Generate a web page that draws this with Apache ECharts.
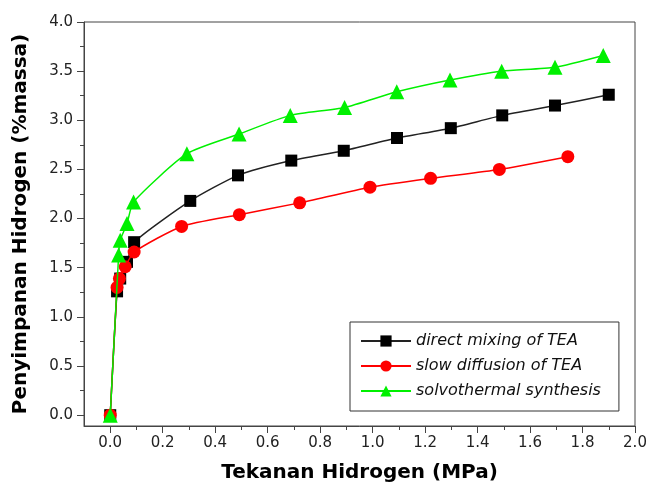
<!DOCTYPE html>
<html>
<head>
<meta charset="utf-8">
<script src="https://cdn.jsdelivr.net/npm/echarts@6/dist/echarts.min.js"></script>
<style>
  html, body { margin: 0; padding: 0; background: #fff; }
  #chart { width: 651px; height: 488px; }
</style>
</head>
<body>
<div id="chart"></div>
<script>
// tekanan (MPa) vs penyimpanan (%massa)
const directX = [0, 0.026, 0.038, 0.064, 0.091, 0.305, 0.487, 0.69, 0.89, 1.093, 1.298, 1.494, 1.695, 1.90]
const directY = [0, 1.26, 1.39, 1.56, 1.76, 2.18, 2.44, 2.59, 2.69, 2.82, 2.92, 3.05, 3.15, 3.26]
const slowX = [0, 0.026, 0.035, 0.057, 0.091, 0.272, 0.492, 0.722, 0.99, 1.221, 1.483, 1.744]
const slowY = [0, 1.30, 1.39, 1.51, 1.66, 1.92, 2.04, 2.16, 2.32, 2.41, 2.50, 2.63]
const solvoX = [0, 0.032, 0.038, 0.064, 0.089, 0.292, 0.491, 0.686, 0.893, 1.092, 1.295, 1.492, 1.695, 1.879]
const solvoY = [0, 1.63, 1.78, 1.95, 2.17, 2.66, 2.86, 3.05, 3.13, 3.29, 3.41, 3.50, 3.54, 3.66]

const seriesNames = ['direct mixing of TEA', 'slow diffusion of TEA', 'solvothermal synthesis']

const xMajor = [0, 0.2, 0.4, 0.6, 0.8, 1.0, 1.2, 1.4, 1.6, 1.8, 2.0]
const xMinor = [0.1, 0.3, 0.5, 0.7, 0.9, 1.1, 1.3, 1.5, 1.7, 1.9]
const yMajor = [0, 0.5, 1.0, 1.5, 2.0, 2.5, 3.0, 3.5, 4.0]
const yMinor = [0.25, 0.75, 1.25, 1.75, 2.25, 2.75, 3.25, 3.75]

const font = '"DejaVu Sans", sans-serif'
const axisColor = '#444'

function pairs(xs, ys) {
  return xs.map((x, i) => [x, ys[i]])
}

const chart = echarts.init(document.getElementById('chart'))

const xBase = {
  type: 'value',
  min: -0.1,
  max: 2.0,
  position: 'bottom',
  splitLine: { show: false },
}
const yBase = {
  type: 'value',
  min: -0.11,
  max: 4.0,
  position: 'left',
  splitLine: { show: false },
}

const option = {
  animation: false,
  backgroundColor: '#fff',
  textStyle: { fontFamily: font },
  grid: {
    left: 84,
    right: 16,
    top: 22,
    bottom: 59,
    show: true,
    borderColor: axisColor,
    borderWidth: 1,
  },
  xAxis: [
    {
      ...xBase,
      name: 'Tekanan Hidrogen (MPa)',
      nameLocation: 'middle',
      nameGap: 37,
      nameTextStyle: { fontFamily: font, fontSize: 20, fontWeight: 'bold', color: '#000' },
      axisLine: { show: true, onZero: false, lineStyle: { color: axisColor, width: 1 } },
      axisTick: { show: true, inside: false, length: 7, customValues: xMajor, lineStyle: { color: axisColor } },
      axisLabel: {
        customValues: xMajor,
        formatter: v => v.toFixed(1),
        fontFamily: font,
        fontSize: 15,
        color: '#222',
        margin: 10,
      },
    },
    {
      ...xBase,
      axisLine: { show: false, onZero: false },
      axisTick: { show: true, inside: false, length: 4, customValues: xMinor, lineStyle: { color: axisColor } },
      axisLabel: { show: false },
    },
  ],
  yAxis: [
    {
      ...yBase,
      name: 'Penyimpanan Hidrogen (%massa)',
      nameLocation: 'middle',
      nameGap: 53,
      nameTextStyle: { fontFamily: font, fontSize: 20, fontWeight: 'bold', color: '#000' },
      axisLine: { show: true, onZero: false, lineStyle: { color: axisColor, width: 1 } },
      axisTick: { show: true, inside: false, length: 7, customValues: yMajor, lineStyle: { color: axisColor } },
      axisLabel: {
        customValues: yMajor,
        formatter: v => v.toFixed(1),
        fontFamily: font,
        fontSize: 15,
        color: '#222',
        margin: 11,
      },
    },
    {
      ...yBase,
      axisLine: { show: false, onZero: false },
      axisTick: { show: true, inside: false, length: 4, customValues: yMinor, lineStyle: { color: axisColor } },
      axisLabel: { show: false },
    },
  ],
  legend: {
    orient: 'vertical',
    left: 350,
    top: 322,
    padding: [11, 18, 12, 10],
    itemGap: 9,
    itemWidth: 50,
    itemHeight: 14,
    borderColor: '#333',
    borderWidth: 1,
    backgroundColor: '#fff',
    data: seriesNames,
    textStyle: { fontFamily: font, fontSize: 16, fontStyle: 'italic', color: '#111' },
  },
  series: [
    {
      name: seriesNames[0],
      type: 'line',
      data: pairs(directX, directY),
      smooth: 0.2,
      symbol: 'rect',
      symbolSize: 12,
      itemStyle: { color: '#000' },
      lineStyle: { color: '#222', width: 1.5 },
      z: 2,
    },
    {
      name: seriesNames[1],
      type: 'line',
      data: pairs(slowX, slowY),
      smooth: 0.2,
      symbol: 'circle',
      symbolSize: 13,
      itemStyle: { color: '#ff0000' },
      lineStyle: { color: '#ff0000', width: 1.5 },
      z: 3,
    },
    {
      name: seriesNames[2],
      type: 'line',
      data: pairs(solvoX, solvoY),
      smooth: 0.2,
      symbol: 'triangle',
      symbolSize: 15,
      itemStyle: { color: '#00f000' },
      lineStyle: { color: '#00f000', width: 1.5 },
      z: 4,
    },
  ],
}

chart.setOption(option)
</script>
</body>
</html>
